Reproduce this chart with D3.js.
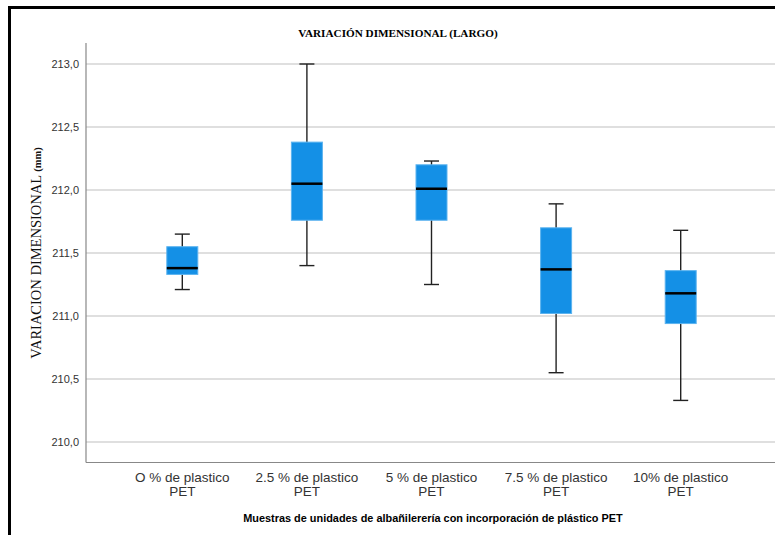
<!DOCTYPE html>
<html>
<head>
<meta charset="utf-8">
<script src="https://cdn.jsdelivr.net/npm/d3@7"></script>
<style>
body { margin: 0; background: #fff; }
</style>
</head>
<body>
<div id="chart-area"></div>
<script>
// data (five-number summary per group)
const categories = ["O % de plastico|PET", "2.5 % de plastico|PET", "5 % de plastico|PET", "7.5 % de plastico|PET", "10% de plastico|PET"]
const mins    = [211.21, 211.40, 211.25, 210.55, 210.33]
const q1s     = [211.33, 211.76, 211.76, 211.02, 210.94]
const medians = [211.38, 212.05, 212.01, 211.37, 211.18]
const q3s     = [211.55, 212.38, 212.20, 211.70, 211.36]
const maxs    = [211.65, 213.00, 212.23, 211.89, 211.68]
const yTicks  = [210.0, 210.5, 211.0, 211.5, 212.0, 212.5, 213.0]

const data = categories.map((c, i) => ({
	cat: c, min: mins[i], q1: q1s[i], med: medians[i], q3: q3s[i], max: maxs[i]
}))

const W = 775, H = 535
const svg = d3.select("#chart-area").append("svg")
	.attr("width", W)
	.attr("height", H)

// outer frame (top and left edges only show)
svg.append("line").attr("x1", 8).attr("x2", W).attr("y1", 7.5).attr("y2", 7.5)
	.attr("stroke", "#000").attr("stroke-width", 3)
svg.append("line").attr("x1", 9.5).attr("x2", 9.5).attr("y1", 6).attr("y2", H)
	.attr("stroke", "#000").attr("stroke-width", 3)

const y = d3.scaleLinear().domain([210, 213]).range([442, 64])
const x = d3.scaleBand().domain(categories).range([120, 743]).paddingInner(0).paddingOuter(0)

const axisLeft = 86, axisBottom = 462.5

// gridlines
svg.append("g").selectAll("line")
	.data(yTicks)
	.join("line")
	.attr("x1", axisLeft).attr("x2", W)
	.attr("y1", d => y(d)).attr("y2", d => y(d))
	.attr("stroke", "#d4d4d4").attr("stroke-width", 1.5)

// y axis
const yAxis = svg.append("g")
	.attr("transform", `translate(${axisLeft},0)`)
	.call(d3.axisLeft(y).tickValues(yTicks).tickSize(0).tickPadding(7)
		.tickFormat(d => d3.format(".1f")(d).replace(".", ",")))
yAxis.select(".domain").remove()
yAxis.selectAll("text").attr("font-family", "Arial, 'Liberation Sans', sans-serif")
	.attr("font-size", 11).attr("fill", "#333")

svg.append("line").attr("x1", axisLeft).attr("x2", axisLeft).attr("y1", 43).attr("y2", axisBottom)
	.attr("stroke", "#888").attr("stroke-width", 1.2)
svg.append("line").attr("x1", axisLeft).attr("x2", W).attr("y1", axisBottom).attr("y2", axisBottom)
	.attr("stroke", "#888").attr("stroke-width", 1.2)

// x labels
const xl = svg.append("g").selectAll("text")
	.data(categories)
	.join("text")
	.attr("x", d => x(d) + x.bandwidth() / 2)
	.attr("y", 482)
	.attr("text-anchor", "middle")
	.attr("font-family", "Arial, 'Liberation Sans', sans-serif")
	.attr("font-size", 13.5)
	.attr("fill", "#333")
xl.selectAll("tspan")
	.data(d => d.split("|"))
	.join("tspan")
	.attr("x", function () { return d3.select(this.parentNode).attr("x") })
	.attr("dy", (d, i) => i === 0 ? 0 : 14)
	.text(d => d)

// boxes
const boxW = 31, capW = 15
const g = svg.append("g").selectAll("g")
	.data(data)
	.join("g")
	.attr("transform", d => `translate(${x(d.cat) + x.bandwidth() / 2},0)`)

g.append("line") //whisker
	.attr("x1", 0).attr("x2", 0)
	.attr("y1", d => y(d.max)).attr("y2", d => y(d.min))
	.attr("stroke", "#222").attr("stroke-width", 1.4)
g.append("line").attr("x1", -capW / 2).attr("x2", capW / 2)
	.attr("y1", d => y(d.max)).attr("y2", d => y(d.max))
	.attr("stroke", "#222").attr("stroke-width", 1.4)
g.append("line").attr("x1", -capW / 2).attr("x2", capW / 2)
	.attr("y1", d => y(d.min)).attr("y2", d => y(d.min))
	.attr("stroke", "#222").attr("stroke-width", 1.4)
g.append("rect")
	.attr("x", -boxW / 2).attr("width", boxW)
	.attr("y", d => y(d.q3)).attr("height", d => y(d.q1) - y(d.q3))
	.attr("fill", "#1490e6").attr("stroke", "#5cb3ef").attr("stroke-width", 1)
g.append("line")
	.attr("x1", -boxW / 2).attr("x2", boxW / 2)
	.attr("y1", d => y(d.med)).attr("y2", d => y(d.med))
	.attr("stroke", "#000").attr("stroke-width", 2.5)

// titles
svg.append("text").attr("x", 398).attr("y", 37).attr("text-anchor", "middle")
	.attr("font-family", "'Liberation Serif', 'Times New Roman', serif")
	.attr("font-weight", "bold").attr("font-size", 11.2)
	.text("VARIACIÓN DIMENSIONAL (LARGO)")

const yl = svg.append("text")
	.attr("transform", "translate(41,253) rotate(-90)")
	.attr("text-anchor", "middle")
	.attr("font-family", "'Liberation Serif', 'Times New Roman', serif")
	.attr("fill", "#111")
yl.append("tspan").attr("font-size", 14.5).text("VARIACION DIMENSIONAL ")
yl.append("tspan").attr("font-size", 10.5).attr("font-weight", "bold").text("(mm)")

svg.append("text").attr("x", 433).attr("y", 522).attr("text-anchor", "middle")
	.attr("font-family", "'Liberation Sans Narrow', 'Arial Narrow', Arial, sans-serif")
	.attr("font-weight", "bold").attr("font-size", 10.9)
	.text("Muestras de unidades de albañilerería con incorporación de plástico PET")
</script>
</body>
</html>
